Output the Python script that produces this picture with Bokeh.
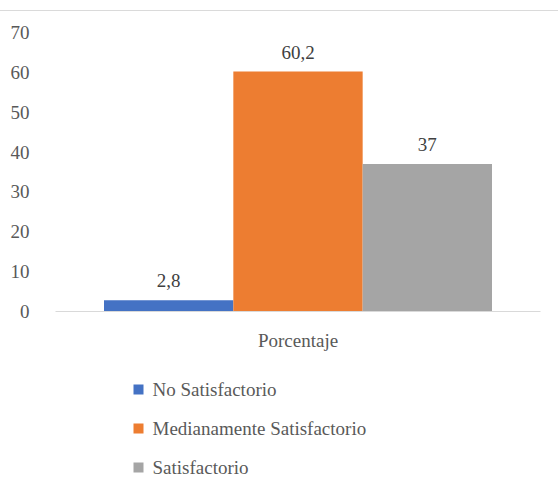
from bokeh.plotting import figure
from bokeh.layouts import column
from bokeh.models import FactorRange, Range1d, LabelSet, ColumnDataSource, FixedTicker
from bokeh.transform import dodge
from bokeh.core.properties import value
from bokeh.embed import file_html
from bokeh.resources import INLINE

category = ["Porcentaje"]
series = ["No Satisfactorio", "Medianamente Satisfactorio", "Satisfactorio"]
values = [2.8, 60.2, 37]
colors = ["#4472C4", "#ED7D31", "#A5A5A5"]
y_ticks = [0, 10, 20, 30, 40, 50, 60, 70]

FONT = "'Liberation Serif', 'Times New Roman', serif"
TEXT = "#595959"

# --- bar chart ---
p = figure(width=558, height=342, x_range=FactorRange(*category, range_padding=0),
           y_range=Range1d(0, 70), output_backend="svg", toolbar_location=None,
           min_border_left=55, min_border_right=18, min_border_top=21, min_border_bottom=10,
           styles={"margin-top": "10px", "border-top": "1px solid #DADADA"})

p.outline_line_color = None
p.xgrid.grid_line_color = None
p.ygrid.grid_line_color = None

bar_w = 0.8 / len(series)
offsets = [(i - 1) * bar_w for i in range(len(series))]
for name, val, col, off in zip(series, values, colors, offsets):
    src = ColumnDataSource(dict(x=category, y=[val], lbl=[f"{val:g}".replace(".", ",")]))
    p.vbar(x=dodge("x", off, range=p.x_range), top="y", width=bar_w, source=src,
           fill_color=col, line_color=None)
    p.add_layout(LabelSet(x=dodge("x", off, range=p.x_range), y="y", text="lbl", source=src,
                          text_align="center", text_baseline="alphabetic", y_offset=13,
                          text_font=value(FONT), text_font_size=value("19px"),
                          text_color=value("#404040")))

p.yaxis.ticker = FixedTicker(ticks=y_ticks)
p.yaxis.axis_line_color = None
p.yaxis.major_tick_line_color = None
p.yaxis.minor_tick_line_color = None
p.yaxis.major_label_text_font = FONT
p.yaxis.major_label_text_font_size = "19px"
p.yaxis.major_label_text_color = TEXT
p.yaxis.major_label_standoff = 20

p.xaxis.axis_line_color = "#D9D9D9"
p.xaxis.major_tick_line_color = None
p.xaxis.major_label_text_font = FONT
p.xaxis.major_label_text_font_size = "19px"
p.xaxis.major_label_text_color = TEXT
p.xaxis.major_label_standoff = 12

# --- legend panel underneath: one row per series, swatch + name ---
# x in pixels from the frame's left edge, y in legend rows (0 = top row)
lg = figure(width=558, height=138, x_range=Range1d(0, 485), y_range=Range1d(2.59, -0.95),
            x_axis_type=None, y_axis_type=None,
            output_backend="svg", toolbar_location=None,
            min_border_left=0, min_border_right=0, min_border_top=0, min_border_bottom=0)
lg.grid.visible = False
lg.outline_line_color = None

leg_src = ColumnDataSource(dict(row=list(range(len(series))), name=series, color=colors))
lg.scatter(x=83, y="row", marker="square", size=10, fill_color="color", line_color=None,
           source=leg_src)
lg.add_layout(LabelSet(x=97, y="row", text="name", source=leg_src,
                       text_align="left", text_baseline="middle",
                       text_font=value(FONT), text_font_size=value("19px"),
                       text_color=value(TEXT)))

open("out.html", "w").write(file_html(column(p, lg, spacing=0), INLINE))
